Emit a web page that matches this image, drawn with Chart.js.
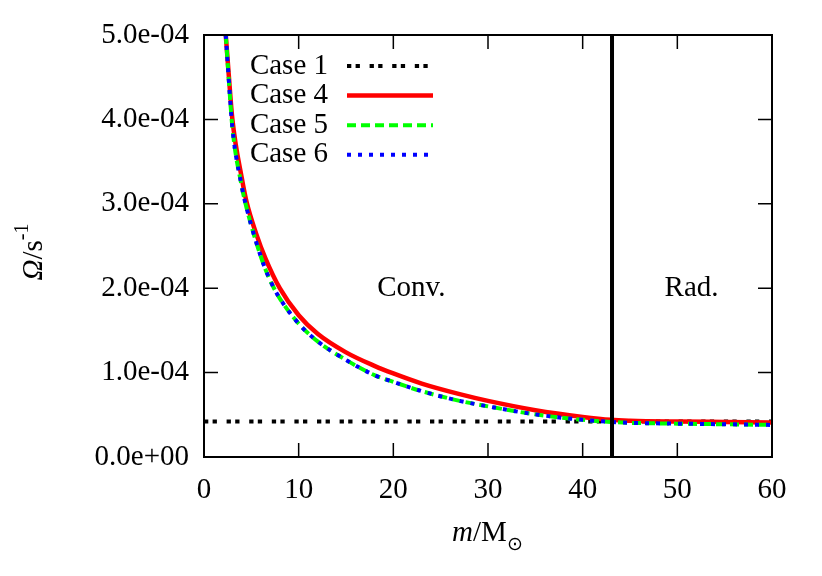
<!DOCTYPE html>
<html>
<head>
<meta charset="utf-8">
<script src="https://cdn.jsdelivr.net/npm/chart.js@4.4.1/dist/chart.umd.min.js"></script>
<style>
  html, body { margin: 0; padding: 0; background: #fff; }
  canvas { display: block; }
</style>
</head>
<body>
<canvas id="omegaChart" width="822" height="576"></canvas>
<script>
// values (m in solar masses, omega in 1/s)
const massCase1 = [0, 60];
const omegaCase1 = [4.2e-5, 4.2e-5];

const massCase4 = [2.3, 2.6, 3.0, 4.0, 4.5, 5.5, 6.5, 8, 10, 12, 15, 18, 20, 23, 27, 30, 35, 40, 43, 45, 50, 55, 60];
const omegaCase4 = [5.0e-4, 4.55e-4, 4.0e-4, 3.3e-4, 3.02e-4, 2.65e-4, 2.35e-4, 2.0e-4, 1.68e-4, 1.46e-4, 1.24e-4, 1.08e-4,
    0.99e-4, 0.87e-4, 0.745e-4, 0.665e-4, 0.555e-4, 0.475e-4, 0.44e-4, 0.43e-4, 0.42e-4, 0.415e-4, 0.41e-4];

const massCase56 = [2.3, 2.6, 3.0, 4.0, 4.5, 5.5, 6.5, 7.3, 8, 10, 12, 15, 18, 20, 23, 27, 30, 35, 40, 43, 45, 50, 55, 60];
const omegaCase5 = [5.0e-4, 4.5e-4, 3.9e-4, 3.2e-4, 2.95e-4, 2.55e-4, 2.22e-4, 2.02e-4, 1.88e-4, 1.58e-4, 1.37e-4, 1.15e-4,
    0.97e-4, 0.89e-4, 0.78e-4, 0.665e-4, 0.6e-4, 0.505e-4, 0.44e-4, 0.415e-4, 0.405e-4, 0.395e-4, 0.388e-4, 0.38e-4];
const omegaCase6 = [5.0e-4, 4.5e-4, 3.9e-4, 3.2e-4, 2.95e-4, 2.55e-4, 2.22e-4, 2.02e-4, 1.88e-4, 1.58e-4, 1.37e-4, 1.15e-4,
    0.97e-4, 0.89e-4, 0.78e-4, 0.665e-4, 0.6e-4, 0.505e-4, 0.44e-4, 0.415e-4, 0.405e-4, 0.395e-4, 0.388e-4, 0.38e-4];

const boundaryMass = 43.1;
const boundaryOmega = [0, 5e-4];

const xTicks = [0, 10, 20, 30, 40, 50, 60];
const yTicks = [0, 1e-4, 2e-4, 3e-4, 4e-4, 5e-4];

const regionLabels = ['Conv.', 'Rad.'];
const regionMass = [21.9, 51.5];
const regionOmega = [2e-4, 2e-4];

const FONT = '"Liberation Serif", "DejaVu Serif", serif';
const FS = 29;

function toPoints(xs, ys) {
    return xs.map(function (x, i) { return { x: x, y: ys[i] }; });
}

function expLabel(v) {
    const parts = Number(v).toExponential(1).split('e');
    const sign = parts[1][0] === '-' ? '-' : '+';
    const digits = parts[1].replace(/[+-]/, '').padStart(2, '0');
    return parts[0] + 'e' + sign + digits;
}

// gnuplot-like frame, inward ticks, legend, region labels and axis titles
const gnuplotLook = {
    id: 'gnuplotLook',
    afterDatasetsDraw(chart) {
        const c = chart.ctx;
        const a = chart.chartArea;
        const xs = chart.scales.x;
        const ys = chart.scales.y;
        c.save();

        c.strokeStyle = '#000';
        c.lineWidth = 2;
        c.strokeRect(a.left, a.top, a.right - a.left, a.bottom - a.top);

        c.lineWidth = 1.5;
        c.beginPath();
        xTicks.forEach(function (t) {
            const px = xs.getPixelForValue(t);
            c.moveTo(px, a.bottom); c.lineTo(px, a.bottom - 14);
            c.moveTo(px, a.top); c.lineTo(px, a.top + 14);
        });
        yTicks.forEach(function (t) {
            const py = ys.getPixelForValue(t);
            c.moveTo(a.left, py); c.lineTo(a.left + 14, py);
            c.moveTo(a.right, py); c.lineTo(a.right - 14, py);
        });
        c.stroke();

        // region labels
        c.fillStyle = '#000';
        c.font = FS + 'px ' + FONT;
        c.textAlign = 'center';
        c.textBaseline = 'middle';
        regionLabels.forEach(function (txt, i) {
            c.fillText(txt, xs.getPixelForValue(regionMass[i]), ys.getPixelForValue(regionOmega[i]));
        });

        // legend: label on the left, sample on the right
        const shown = chart.data.datasets.filter(function (d) { return d.label; });
        shown.forEach(function (d, i) {
            const yRow = 66 + i * 29.6;
            c.font = FS + 'px ' + FONT;
            c.textAlign = 'right';
            c.fillStyle = '#000';
            c.fillText(d.label, 328, yRow);
            c.beginPath();
            c.strokeStyle = d.borderColor;
            c.lineWidth = d.borderWidth;
            c.setLineDash(d.borderDash || []);
            c.moveTo(347, yRow);
            c.lineTo(433, yRow);
            c.stroke();
        });
        c.setLineDash([]);

        // y title: Omega/s^-1 rotated
        c.save();
        c.translate(42, 252);
        c.rotate(-Math.PI / 2);
        c.textAlign = 'left';
        c.textBaseline = 'alphabetic';
        c.font = 'italic ' + FS + 'px ' + FONT;
        const w1 = c.measureText('\u03A9').width;
        c.font = FS + 'px ' + FONT;
        const w2 = c.measureText('/s').width;
        c.font = '20px ' + FONT;
        const w3 = c.measureText('-1').width;
        const x0 = -(w1 + w2 + w3) / 2;
        c.font = 'italic ' + FS + 'px ' + FONT;
        c.fillText('\u03A9', x0, 0);
        c.font = FS + 'px ' + FONT;
        c.fillText('/s', x0 + w1, 0);
        c.font = '20px ' + FONT;
        c.fillText('-1', x0 + w1 + w2, -14);
        c.restore();

        // x title: m/M_sun
        c.textAlign = 'left';
        c.textBaseline = 'alphabetic';
        c.font = 'italic ' + FS + 'px ' + FONT;
        const m1 = c.measureText('m').width;
        c.font = FS + 'px ' + FONT;
        const m2 = c.measureText('/M').width;
        const m3 = 17;
        const xt = 488 - (m1 + m2 + m3) / 2;
        c.font = 'italic ' + FS + 'px ' + FONT;
        c.fillText('m', xt, 541);
        c.font = FS + 'px ' + FONT;
        c.fillText('/M', xt + m1, 541);
        c.font = '19px "DejaVu Sans", sans-serif';
        c.fillText('\u2299', xt + m1 + m2, 550);

        c.restore();
    }
};

new Chart(document.getElementById('omegaChart').getContext('2d'), {
    type: 'line',
    data: {
        datasets: [
            {
                label: 'Case 1',
                data: toPoints(massCase1, omegaCase1),
                borderColor: '#000000',
                borderWidth: 4,
                borderDash: [4.3, 4.3, 4.3, 9.7],
                order: 4
            },
            {
                label: 'Case 4',
                data: toPoints(massCase4, omegaCase4),
                borderColor: '#ff0000',
                borderWidth: 4.5,
                order: 3
            },
            {
                label: 'Case 5',
                data: toPoints(massCase56, omegaCase5),
                borderColor: '#00ff00',
                borderWidth: 4,
                borderDash: [9, 5],
                order: 2
            },
            {
                label: 'Case 6',
                data: toPoints(massCase56, omegaCase6),
                borderColor: '#0000ff',
                borderWidth: 4,
                borderDash: [4, 7],
                order: 1
            },
            {
                label: '',
                data: toPoints([boundaryMass, boundaryMass], boundaryOmega),
                borderColor: '#000000',
                borderWidth: 4,
                cubicInterpolationMode: 'default',
                order: 0
            }
        ]
    },
    options: {
        responsive: false,
        animation: false,
        layout: { padding: { top: 35, right: 50, left: 0, bottom: 0 } },
        elements: {
            point: { radius: 0 },
            line: { cubicInterpolationMode: 'monotone', fill: false }
        },
        scales: {
            x: {
                type: 'linear',
                min: 0,
                max: 60,
                afterBuildTicks: function (s) { s.ticks = xTicks.map(function (v) { return { value: v }; }); },
                afterFit: function (s) { s.height = 576 - 457; },
                grid: { display: false, drawTicks: false },
                border: { display: false },
                ticks: {
                    color: '#000',
                    padding: 16,
                    maxRotation: 0,
                    font: { family: FONT, size: FS }
                }
            },
            y: {
                type: 'linear',
                min: 0,
                max: 5e-4,
                afterBuildTicks: function (s) { s.ticks = yTicks.map(function (v) { return { value: v }; }); },
                afterFit: function (s) { s.width = 204; },
                grid: { display: false, drawTicks: false },
                border: { display: false },
                ticks: {
                    color: '#000',
                    padding: 15,
                    font: { family: FONT, size: FS },
                    callback: function (v) { return expLabel(v); }
                }
            }
        },
        plugins: {
            legend: { display: false },
            tooltip: { enabled: false }
        }
    },
    plugins: [gnuplotLook]
});
</script>
</body>
</html>
